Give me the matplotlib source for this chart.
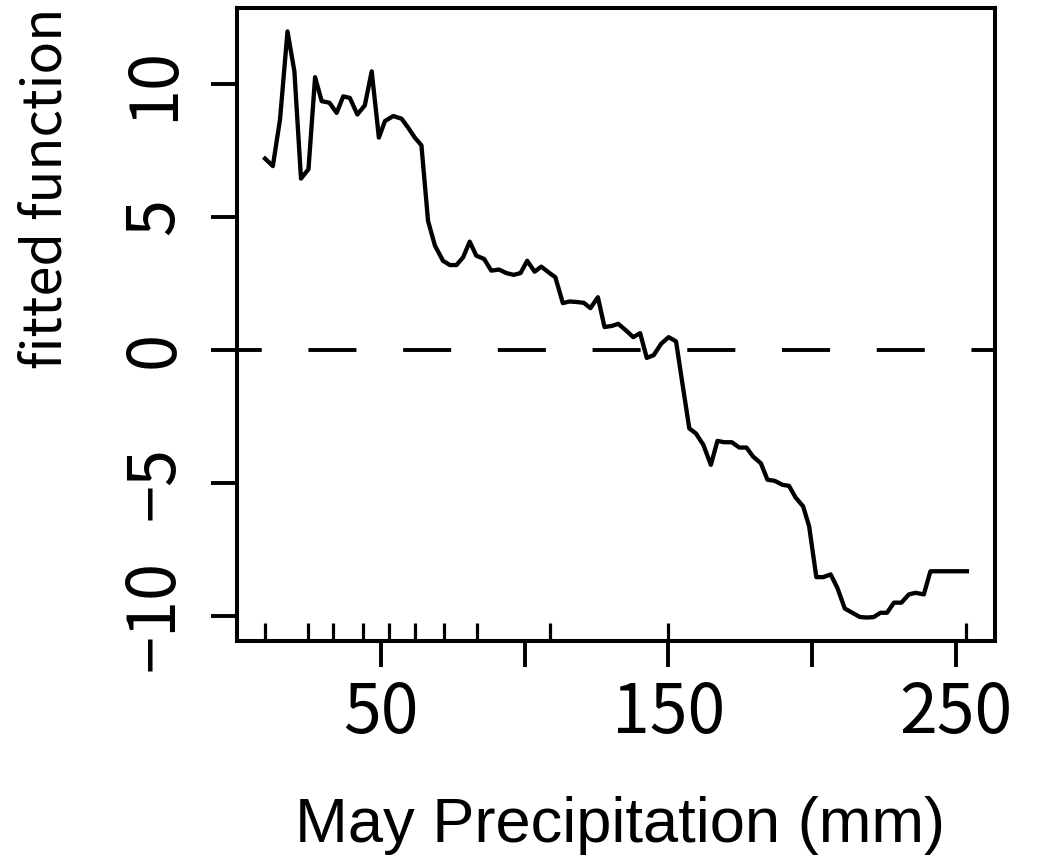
import matplotlib
matplotlib.use('Agg')
import matplotlib.pyplot as plt

# partial dependence curve for May precipitation
precip_mm = [9.7, 12.4, 14.9, 17.5, 19.9, 22.2, 24.8, 27.1, 29.4, 32.1, 34.6, 36.9, 39.2,
             41.8, 44.4, 46.8, 49.3, 51.4, 54.3, 57.2, 59.5, 61.8, 64.1, 66.4, 68.8, 71.6,
             74.0, 76.3, 78.6, 80.9, 83.2, 85.9, 88.4, 91.1, 93.6, 96.2, 98.6, 100.9, 103.5,
             105.8, 108.3, 110.7, 113.3, 115.6, 118.2, 120.6, 122.9, 125.5, 127.8, 130.3,
             132.6, 135.3, 137.8, 140.2, 142.5, 144.9, 147.5, 150.1, 152.7, 155.0, 157.3,
             159.6, 162.2, 164.8, 167.1, 169.4, 172.1, 174.7, 177.2, 179.5, 182.2, 184.5,
             187.0, 189.7, 192.0, 194.3, 196.9, 199.0, 201.5, 203.9, 206.5, 208.8, 211.4,
             214.0, 216.7, 219.2, 221.5, 223.8, 226.1, 228.5, 231.1, 233.7, 236.0, 238.9,
             241.2, 253.9]
fitted = [7.18, 6.90, 8.65, 11.96, 10.46, 6.43, 6.78, 10.24, 9.34, 9.28, 8.90, 9.52, 9.46,
          8.84, 9.18, 10.46, 7.97, 8.59, 8.78, 8.68, 8.34, 7.97, 7.68, 4.84, 3.91, 3.34,
          3.18, 3.18, 3.47, 4.06, 3.53, 3.41, 2.97, 3.01, 2.88, 2.81, 2.88, 3.34, 2.93,
          3.12, 2.91, 2.72, 1.75, 1.81, 1.79, 1.76, 1.56, 1.97, 0.85, 0.89,
          0.97, 0.72, 0.47, 0.62, -0.31, -0.21, 0.22, 0.47, 0.31, -1.34, -2.96,
          -3.15, -3.58, -4.33, -3.43, -3.48, -3.48, -3.68, -3.68, -4.02, -4.27, -4.89,
          -4.93, -5.08, -5.12, -5.56, -5.89, -6.64, -8.55, -8.55, -8.45, -8.95, -9.73,
          -9.89, -10.05, -10.07, -10.05, -9.89, -9.89, -9.51, -9.51, -9.20, -9.14, -9.20,
          -8.33, -8.33]
# deciles of the observed precipitation (rug)
deciles = [9.7, 24.7, 33.3, 43.7, 52.9, 62.0, 71.8, 83.4, 108.7, 149.8, 253.6]

x_ticks = [50, 100, 150, 200, 250]
x_ticklabels = ['50', '', '150', '', '250']
y_ticks = [-10, -5, 0, 5, 10]
y_ticklabels = ['\u221210', '\u22125', '0', '5', '10']

plt.rcParams['lines.scale_dashes'] = False
tick_font = ['Noto Sans CJK KR', 'DejaVu Sans']

fig = plt.figure(figsize=(10.4, 8.63), dpi=100)
ax = fig.add_axes([237/1040, 1 - 641/863, 758/1040, 633/863])

ax.plot(precip_mm, fitted, color='black', lw=3.1, solid_joinstyle='round')
ax.axhline(0, color='black', lw=2.8, linestyle=(16.8, (34.6, 33.6)))

# rug of deciles along the bottom
ax.vlines(deciles, 0, 0.028, transform=ax.get_xaxis_transform(), color='black', lw=2.3)

xr = max(precip_mm) - min(precip_mm)
yr = max(fitted) - min(fitted)
ax.set_xlim(min(precip_mm) - 0.04 * xr, max(precip_mm) + 0.04 * xr)
ax.set_ylim(min(fitted) - 0.04 * yr, max(fitted) + 0.04 * yr)

for s in ax.spines.values():
    s.set_linewidth(2.9)

ax.set_xticks(x_ticks)
ax.set_xticklabels(x_ticklabels, family=tick_font, fontsize=49)
ax.set_yticks(y_ticks)
ax.set_yticklabels(y_ticklabels, family=tick_font, fontsize=48, rotation=90, va='center')
ax.tick_params(axis='both', length=19, width=2.8, direction='out')
ax.tick_params(axis='x', pad=8)
ax.tick_params(axis='y', pad=16)

ax.set_xlabel('May Precipitation (mm)', family=['Liberation Sans', 'DejaVu Sans'],
              fontsize=45.5, va='center')
ax.xaxis.set_label_coords(0.505, (641 - 825) / 633)
ax.set_ylabel('fitted function', family=tick_font, fontsize=39, va='center')
ax.yaxis.set_label_coords((46 - 237) / 758, (641 - 188) / 633)

fig.savefig('out.png', dpi=100)
